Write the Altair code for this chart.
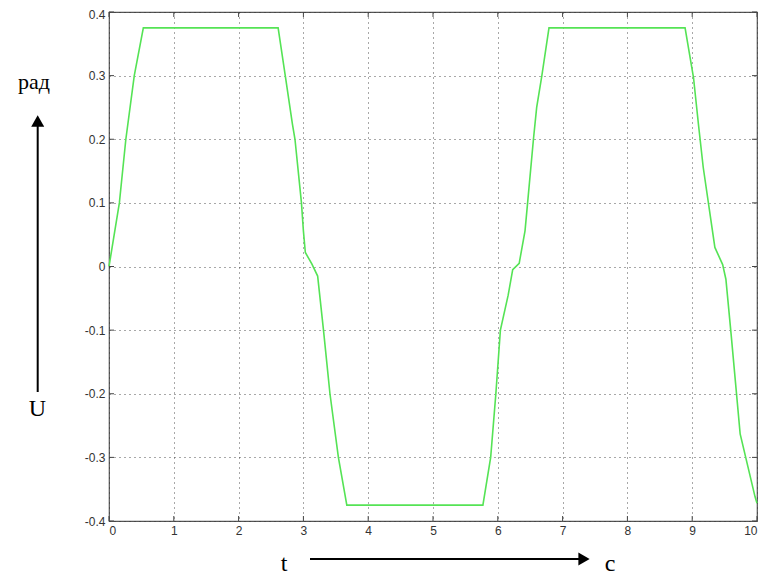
import altair as alt
import pandas as pd

# signal samples (time, value)
t_vals = [0, 0.16, 0.26, 0.39, 0.53,
          2.61, 2.72, 2.83, 2.87, 2.97, 3.0, 3.03, 3.13, 3.22, 3.31, 3.41, 3.54, 3.67,
          5.77, 5.89, 5.97, 6.04, 6.16, 6.23, 6.33, 6.42, 6.46, 6.55, 6.6, 6.68, 6.79,
          8.89, 9.02, 9.1, 9.17, 9.35, 9.47, 9.52, 9.6, 9.74, 9.97, 10.0]
u_vals = [0, 0.1, 0.2, 0.3, 0.375,
          0.375, 0.3, 0.224, 0.2, 0.1, 0.056, 0.022, 0.004, -0.015, -0.1, -0.2, -0.3, -0.375,
          -0.375, -0.3, -0.2, -0.1, -0.045, -0.005, 0.005, 0.056, 0.1, 0.2, 0.25, 0.3, 0.375,
          0.375, 0.297, 0.22, 0.156, 0.03, 0.003, -0.02, -0.106, -0.263, -0.362, -0.372]

x_ticks = [0, 1, 2, 3, 4, 5, 6, 7, 8, 9, 10]
y_ticks = [-0.4, -0.3, -0.2, -0.1, 0, 0.1, 0.2, 0.3, 0.4]

W, H = 648, 509

df = pd.DataFrame({"t": t_vals, "u": u_vals})
xt = pd.DataFrame({"v": x_ticks})
yt = pd.DataFrame({"v": y_ticks})

xscale = alt.Scale(domain=[0, 10], nice=False, zero=False)
yscale = alt.Scale(domain=[-0.4, 0.4], nice=False, zero=False)

ylabel = ("datum.value == 0 ? '0' : (datum.value < 0 ? '-' + format(-datum.value, '.1f') "
          ": format(datum.value, '.1f'))")

axis_common = dict(domain=False, ticks=False, grid=True, gridColor="#333333",
                   gridDash=[1, 4], gridWidth=1, gridOpacity=0.85,
                   labelFont="Liberation Sans", labelFontSize=12, labelColor="#333333",
                   title=None)

line = alt.Chart(df).mark_line(color="#55e355", strokeWidth=1.6).encode(
    x=alt.X("t:Q", scale=xscale,
            axis=alt.Axis(values=x_ticks, labelPadding=4, format="d", **axis_common)),
    y=alt.Y("u:Q", scale=yscale,
            axis=alt.Axis(values=y_ticks, labelPadding=4, labelExpr=ylabel,
                          labelOffset={"condition": {"test": "datum.value > 0.35", "value": 2},
                                       "value": 0},
                          **axis_common)),
)

tick_col = "#444444"
xb = alt.Chart(xt).mark_rule(color=tick_col, strokeWidth=1).encode(
    x=alt.X("v:Q", scale=xscale), y=alt.value(H), y2=alt.value(H - 5))
xtp = alt.Chart(xt).mark_rule(color=tick_col, strokeWidth=1).encode(
    x=alt.X("v:Q", scale=xscale), y=alt.value(0), y2=alt.value(5))
yl = alt.Chart(yt).mark_rule(color=tick_col, strokeWidth=1).encode(
    y=alt.Y("v:Q", scale=yscale), x=alt.value(0), x2=alt.value(5))
yr = alt.Chart(yt).mark_rule(color=tick_col, strokeWidth=1).encode(
    y=alt.Y("v:Q", scale=yscale), x=alt.value(W), x2=alt.value(W - 5))

ann_font = "Liberation Serif"
one = pd.DataFrame({"a": [0]})

t_rad = alt.Chart(one).mark_text(text="рад", font=ann_font, fontSize=22, color="black",
                                 align="center", baseline="middle").encode(
    x=alt.value(-75), y=alt.value(70))
t_u = alt.Chart(one).mark_text(text="U", font=ann_font, fontSize=24, color="black",
                               align="center", baseline="middle").encode(
    x=alt.value(-71.5), y=alt.value(397))
t_t = alt.Chart(one).mark_text(text="t", font=ann_font, fontSize=24, color="black",
                               align="center", baseline="middle").encode(
    x=alt.value(175), y=alt.value(552))
t_c = alt.Chart(one).mark_text(text="c", font=ann_font, fontSize=24, color="black",
                               align="center", baseline="middle").encode(
    x=alt.value(501), y=alt.value(552))

v_arrow = alt.Chart(one).mark_rule(color="black", strokeWidth=2).encode(
    x=alt.value(-71.3), y=alt.value(380), y2=alt.value(113))
v_head = alt.Chart(one).mark_point(shape="triangle-up", filled=True, color="black",
                                   size=170, opacity=1).encode(
    x=alt.value(-71.3), y=alt.value(109))
h_arrow = alt.Chart(one).mark_rule(color="black", strokeWidth=2).encode(
    x=alt.value(201), x2=alt.value(470), y=alt.value(547))
h_head = alt.Chart(one).mark_point(shape="triangle-right", filled=True, color="black",
                                   size=170, opacity=1).encode(
    x=alt.value(475), y=alt.value(547))

chart = alt.layer(line, xb, xtp, yl, yr, t_rad, t_u, t_t, t_c,
                  v_arrow, v_head, h_arrow, h_head).properties(
    width=W, height=H,
    autosize=alt.AutoSizeParams(type="none"),
    padding={"left": 101, "top": 4, "right": 5, "bottom": 56},
    background="white",
).configure_view(stroke="#555555", strokeWidth=1.2)

chart.save("out.html", embed_options={"renderer": "svg", "actions": False})
